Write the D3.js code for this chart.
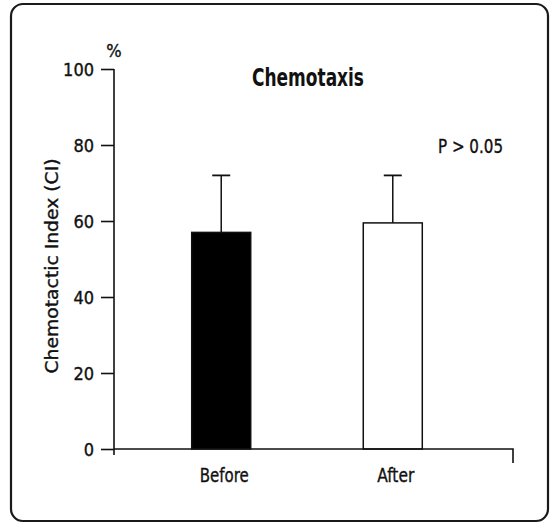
<!DOCTYPE html>
<html>
<head>
<meta charset="utf-8">
<script src="https://cdn.jsdelivr.net/npm/d3@7"></script>
<style>
  html, body { margin: 0; padding: 0; background: #fff; }
  svg { display: block; }
  text { font-family: "DejaVu Sans Condensed", "Liberation Sans Narrow", "Arial Narrow", sans-serif; fill: #111; }
  .thick { stroke: #111; stroke-width: 0.35px; }
</style>
</head>
<body>
<svg id="chart" width="555" height="524"></svg>
<script>
// ---- data ----
const categories = ["Before", "After"];
const means = [57, 59.5];
const upperErrors = [15, 12.5];
const barFills = ["#000000", "#ffffff"];
const yTicks = [0, 20, 40, 60, 80, 100];
const titleText = "Chemotaxis";
const yLabelText = "Chemotactic Index (CI)";
const unitText = "%";
const pText = "P > 0.05";

const svg = d3.select("#chart");
const ink = "#111";

// frame
svg.append("rect")
  .attr("x", 11).attr("y", 4).attr("width", 537).attr("height", 517)
  .attr("rx", 12).attr("ry", 12)
  .attr("fill", "none").attr("stroke", "#1a1a1a").attr("stroke-width", 2.2);

const x0 = 114, xEnd = 513, yTop = 69, yBase = 449;

const y = d3.scaleLinear().domain([0, 100]).range([yBase, yTop]);
const x = d3.scaleBand().domain(categories)
  .range([x0, 500]).paddingInner(0.656).paddingOuter(0.453);

// y axis
const yAxis = d3.axisLeft(y).tickValues(yTicks).tickSize(13).tickSizeOuter(0).tickPadding(7);
const gy = svg.append("g").attr("transform", `translate(${x0},0)`).call(yAxis);
gy.select(".domain").remove();
gy.selectAll(".tick line").attr("stroke", ink).attr("stroke-width", 1.6);
gy.selectAll(".tick text")
  .attr("class", "thick")
  .style("font-size", "18px")
  .attr("fill", ink)
  .attr("dy", "0.36em");
svg.append("line")
  .attr("x1", x0).attr("x2", x0).attr("y1", y(100)).attr("y2", yBase + 6)
  .attr("stroke", ink).attr("stroke-width", 1.6);

// bars
const bars = svg.append("g");
categories.forEach((c, i) => {
  bars.append("rect")
    .attr("x", x(c)).attr("width", x.bandwidth())
    .attr("y", y(means[i])).attr("height", y(0) - y(means[i]))
    .attr("fill", barFills[i]).attr("stroke", ink).attr("stroke-width", 1.5);
  const cx = x(c) + x.bandwidth() / 2;
  bars.append("line")
    .attr("x1", cx).attr("x2", cx)
    .attr("y1", y(means[i])).attr("y2", y(means[i] + upperErrors[i]))
    .attr("stroke", ink).attr("stroke-width", 1.5);
  bars.append("line")
    .attr("x1", cx - 9).attr("x2", cx + 9)
    .attr("y1", y(means[i] + upperErrors[i])).attr("y2", y(means[i] + upperErrors[i]))
    .attr("stroke", ink).attr("stroke-width", 1.8);
});

// x axis line with right down-tick
svg.append("path")
  .attr("d", `M${x0},${yBase} H${xEnd} V${yBase + 14}`)
  .attr("fill", "none").attr("stroke", ink).attr("stroke-width", 1.6);

// x labels
const labelWidths = [49, 37];
svg.append("g").selectAll("text").data(categories).join("text")
  .attr("class", "thick")
  .attr("x", d => x(d) + x.bandwidth() / 2 + 3)
  .attr("y", 482)
  .attr("text-anchor", "middle")
  .attr("textLength", (d, i) => labelWidths[i])
  .attr("lengthAdjust", "spacingAndGlyphs")
  .style("font-size", "20px")
  .text(d => d);

// title
svg.append("text")
  .attr("x", 308).attr("y", 86)
  .attr("text-anchor", "middle")
  .attr("textLength", 112)
  .attr("lengthAdjust", "spacingAndGlyphs")
  .style("font-size", "25px").style("font-weight", "bold")
  .text(titleText);

// unit
svg.append("text")
  .attr("class", "thick")
  .attr("x", 114).attr("y", 57)
  .attr("text-anchor", "middle")
  .style("font-size", "18px")
  .text(unitText);

// y label
svg.append("text")
  .attr("class", "thick")
  .attr("transform", "translate(58,266) rotate(-90)")
  .attr("text-anchor", "middle")
  .attr("textLength", 215)
  .attr("lengthAdjust", "spacingAndGlyphs")
  .style("font-size", "18px")
  .text(yLabelText);

// p value
svg.append("text")
  .attr("class", "thick")
  .attr("x", 438).attr("y", 153)
  .attr("textLength", 65)
  .attr("lengthAdjust", "spacingAndGlyphs")
  .style("font-size", "19px")
  .text(pText);
</script>
</body>
</html>
